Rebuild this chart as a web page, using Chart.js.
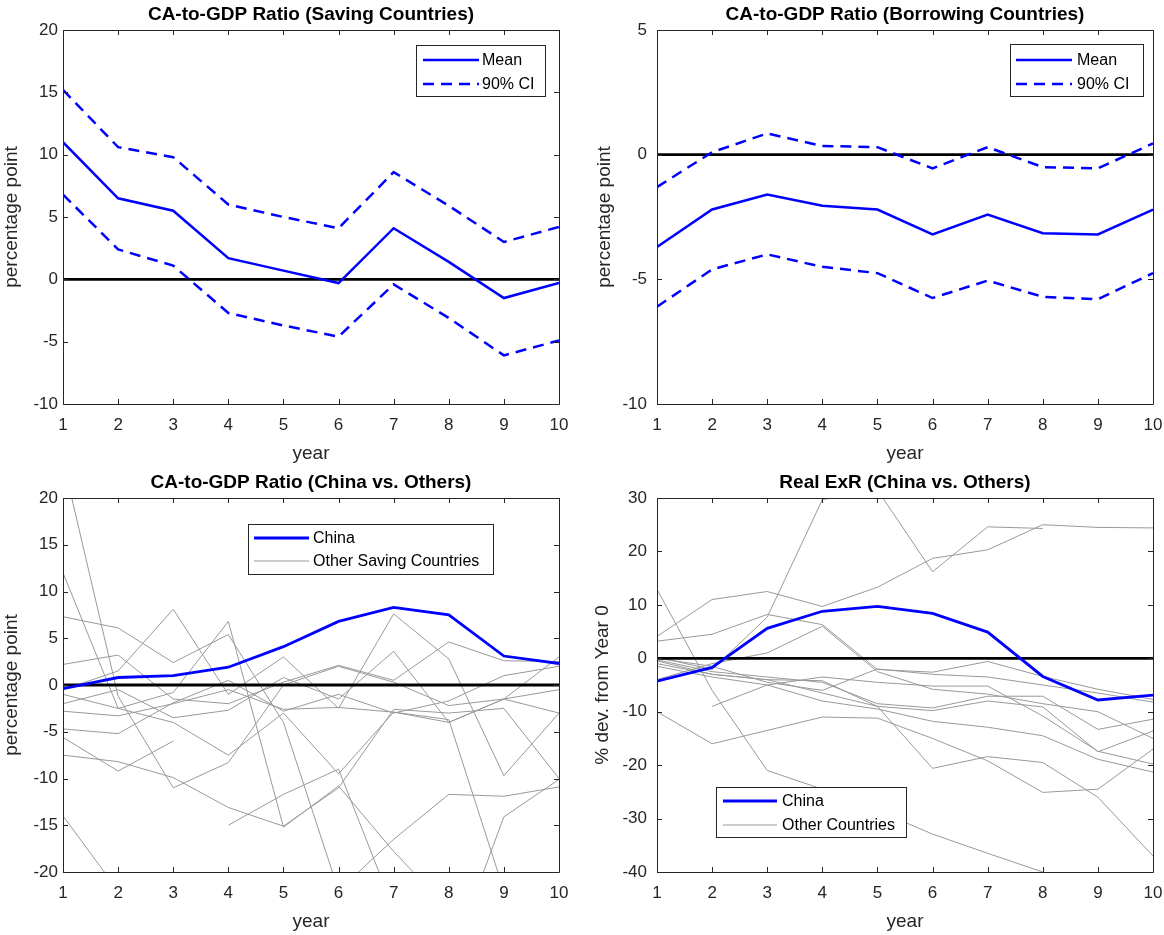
<!DOCTYPE html>
<html>
<head>
<meta charset="utf-8">
<title>CA-to-GDP and Real ExR panels</title>
<script src="https://cdn.jsdelivr.net/npm/chart.js@4.4.0/dist/chart.umd.min.js"></script>
<style>
    body { margin: 0; background: #fff; width: 1164px; height: 935px; position: relative; overflow: hidden; }
    canvas { position: absolute; }
</style>
</head>
<body>
<canvas id="savingChart" width="582" height="467" style="left:0;top:0"></canvas>
<canvas id="borrowChart" width="592" height="467" style="left:582px;top:0"></canvas>
<canvas id="chinaCAChart" width="582" height="467" style="left:0;top:468px"></canvas>
<canvas id="chinaExRChart" width="592" height="467" style="left:582px;top:468px"></canvas>
<script>
const years = [1, 2, 3, 4, 5, 6, 7, 8, 9, 10];
const zeroLine = [0, 0, 0, 0, 0, 0, 0, 0, 0, 0];

// top left: saving countries
const savingMean = [11.0, 6.5, 5.5, 1.7, 0.7, -0.3, 4.1, 1.4, -1.5, -0.3];
const savingUpper = [15.2, 10.6, 9.8, 6.0, 5.0, 4.1, 8.6, 5.9, 3.0, 4.2];
const savingLower = [6.8, 2.4, 1.1, -2.7, -3.7, -4.6, -0.4, -3.1, -6.1, -4.9];

// top right: borrowing countries
const borrowMean = [-3.7, -2.2, -1.6, -2.05, -2.2, -3.2, -2.4, -3.15, -3.2, -2.2];
const borrowUpper = [-1.3, 0.1, 0.85, 0.35, 0.3, -0.55, 0.3, -0.5, -0.55, 0.45];
const borrowLower = [-6.1, -4.6, -4.0, -4.5, -4.75, -5.75, -5.05, -5.7, -5.8, -4.75];

// bottom left: CA-to-GDP, China vs other saving countries
const chinaCA = [-0.4, 0.8, 1.0, 1.9, 4.1, 6.8, 8.3, 7.5, 3.1, 2.3];
const otherSavingCA = [
    [24.0, -1.2, -11.0, -8.3, 0.0, 2.0, 0.3, -2.2, -1.5, 3.0],
    [12.0, -2.5, -4.0, -7.5, -3.0, -9.5, -2.9, -3.7, -22.0, -30.0],
    [7.3, 6.1, 2.4, 5.4, -4.0, -22.0, -16.5, -11.7, -11.9, -10.9],
    [2.2, 3.2, -1.5, -2.0, 0.3, 2.1, 0.5, 4.6, 2.6, 2.5],
    [-0.5, 1.5, 8.1, -1.0, 3.0, -2.5, 7.6, 2.8, -9.7, -3.0],
    [-1.0, -2.5, -0.8, 6.8, -15.2, -10.8, -17.8, -24.0, null, null],
    [-2.0, -0.5, -3.5, -2.7, 0.8, -1.5, 3.6, -4.0, -1.5, -0.5],
    [-2.8, -3.3, -2.0, -0.5, -2.6, -2.4, -2.9, -4.0, -1.5, -3.0],
    [-4.7, -5.2, -1.9, 0.5, -2.8, -1.0, -3.0, -1.7, 1.0, 2.0],
    [-5.6, -9.2, -6.0, null, null, null, null, null, null, null],
    [-7.5, -8.2, -9.9, -13.1, -15.1, -11.0, -2.6, -3.0, -2.5, -10.0],
    [-14.0, -22.0, -30.0, null, null, null, null, null, null, null],
    [null, null, null, -15.0, -11.7, -9.0, -24.0, -30.0, -14.1, -10.1]
];

// bottom right: real exchange rate, China vs other countries
const chinaExR = [-4.3, -1.7, 5.6, 8.8, 9.7, 8.4, 4.9, -3.4, -7.8, -6.9];
const otherExR = [
    [12.9, -6.0, -21.0, -24.5, -28.5, -32.9, -36.5, -40.0, -44.0, -48.0],
    [4.1, 11.0, 12.5, 9.7, 13.3, 18.7, 20.3, 25.0, 24.5, 24.4],
    [0.2, -2.1, 7.7, 29.7, 31.5, 16.2, 24.6, 24.3, null, null],
    [3.2, 4.5, 8.2, 6.3, -2.1, -2.6, -0.6, -3.4, -5.8, -7.7],
    [-0.3, -2.5, -3.5, -4.5, -8.5, -9.3, -7.1, -7.1, -13.3, -11.4],
    [-1.0, -3.0, -4.0, -6.5, -9.0, -9.8, -8.0, -9.1, -17.5, -13.6],
    [-1.5, -3.5, -5.0, -8.0, -9.5, -11.8, -12.9, -14.5, -18.9, -21.3],
    [null, -9.0, -5.0, -3.5, -4.5, -5.2, -5.2, -10.8, -17.4, -19.8],
    [-10.0, -16.0, -13.5, -11.0, -11.2, -15.0, -19.2, -25.1, -24.5, -17.0],
    [-0.5, -3.0, -4.0, -4.2, -9.0, -20.6, -18.4, -19.5, -26.0, -37.0],
    [-4.0, -1.0, 1.0, 6.0, -2.5, -5.8, -6.7, -8.5, -10.0, -15.0],
    [0.0, -1.5, -4.5, -6.0, -2.0, -3.0, -3.5, -5.0, -6.5, -8.2]
];

const FONT = "Arial, 'Liberation Sans', Helvetica, sans-serif";
const BLUE = "#0000ff";
const GRAY = "#999999";
const AXIS = "#262626";
const DASH = [11, 7];

function line(data, color, width, dash) {
    return {
        data,
        borderColor: color,
        borderWidth: width,
        borderDash: dash || [],
        pointRadius: 0,
        pointHoverRadius: 0,
        tension: 0,
        fill: false,
        spanGaps: false,
        clip: 0
    };
}

// MATLAB style box with inward ticks on all four sides
const axesBox = {
    id: "axesBox",
    afterDatasetsDraw(chart) {
        const { ctx, chartArea: a, scales: { x, y } } = chart;
        ctx.save();
        ctx.strokeStyle = AXIS;
        ctx.lineWidth = 1;
        ctx.beginPath();
        ctx.rect(a.left + 0.5, a.top + 0.5, a.right - a.left, a.bottom - a.top);
        x.ticks.forEach((t, i) => {
            const px = Math.round(x.getPixelForTick(i)) + 0.5;
            ctx.moveTo(px, a.bottom); ctx.lineTo(px, a.bottom - 5);
            ctx.moveTo(px, a.top); ctx.lineTo(px, a.top + 5);
        });
        y.ticks.forEach(t => {
            const py = Math.round(y.getPixelForValue(t.value)) + 0.5;
            ctx.moveTo(a.left, py); ctx.lineTo(a.left + 5, py);
            ctx.moveTo(a.right, py); ctx.lineTo(a.right - 5, py);
        });
        ctx.stroke();
        ctx.restore();
    }
};

const legendBox = {
    id: "legendBox",
    afterDraw(chart, args, opts) {
        if (!opts || !opts.items) return;
        const ctx = chart.ctx;
        ctx.save();
        ctx.fillStyle = "#fff";
        ctx.fillRect(opts.x, opts.y, opts.w, opts.h);
        ctx.strokeStyle = AXIS;
        ctx.lineWidth = 1;
        ctx.strokeRect(opts.x + 0.5, opts.y + 0.5, opts.w, opts.h);
        ctx.font = "16px " + FONT;
        ctx.textBaseline = "middle";
        opts.items.forEach((it, i) => {
            const ly = opts.rows[i];
            ctx.strokeStyle = it.color;
            ctx.lineWidth = it.width;
            ctx.setLineDash(it.dash || []);
            ctx.beginPath();
            ctx.moveTo(opts.lineX0, ly);
            ctx.lineTo(opts.lineX1, ly);
            ctx.stroke();
            ctx.setLineDash([]);
            ctx.fillStyle = "#000";
            ctx.fillText(it.label, opts.textX, ly + 1);
        });
        ctx.restore();
    }
};

function buildPanel(id, p) {
    const ctx = document.getElementById(id).getContext("2d");
    return new Chart(ctx, {
        type: "line",
        data: { labels: years, datasets: p.datasets },
        options: {
            responsive: false,
            animation: false,
            events: [],
            layout: { padding: { left: 0, right: p.padRight, top: 0, bottom: 0 } },
            plugins: {
                legend: { display: false },
                tooltip: { enabled: false },
                title: {
                    display: true,
                    text: p.title,
                    fullSize: false,
                    color: "#000",
                    font: { family: FONT, size: 19, weight: "bold", lineHeight: 1.2 },
                    padding: { top: 3, bottom: 4.2 }
                },
                legendBox: p.legend
            },
            scales: {
                x: {
                    type: "category",
                    offset: false,
                    grid: { display: false, drawTicks: false },
                    border: { display: false },
                    ticks: { color: AXIS, font: { family: FONT, size: 17 }, padding: 11, autoSkip: false, maxRotation: 0 },
                    title: { display: true, text: "year", color: AXIS, font: { family: FONT, size: 19, lineHeight: 1.2 }, padding: { top: 0, bottom: 2 } },
                    afterFit: s => { s.height = 63; }
                },
                y: {
                    min: p.yMin,
                    max: p.yMax,
                    grid: { display: false, drawTicks: false },
                    border: { display: false },
                    ticks: { stepSize: p.yStep, color: AXIS, font: { family: FONT, size: 17 }, padding: p.yPad },
                    title: { display: true, text: p.yLabel, color: AXIS, font: { family: FONT, size: 19, lineHeight: 1.2 }, padding: { top: p.yTitlePad, bottom: 0 } },
                    afterFit: s => { s.width = p.yWidth; }
                }
            }
        },
        plugins: [axesBox, legendBox]
    });
}

document.addEventListener("DOMContentLoaded", () => {
    buildPanel("savingChart", {
        title: "CA-to-GDP Ratio (Saving Countries)",
        yLabel: "percentage point",
        yMin: -10, yMax: 20, yStep: 5,
        yWidth: 63, yPad: 5, yTitlePad: 0.6, padRight: 23,
        datasets: [
            line(savingMean, BLUE, 2.5),
            line(savingUpper, BLUE, 2.5, DASH),
            line(savingLower, BLUE, 2.5, DASH),
            line(zeroLine, "#000", 2.8)
        ],
        legend: {
            x: 416, y: 45, w: 129, h: 51, lineX0: 423, lineX1: 479, textX: 482, rows: [60, 84],
            items: [
                { label: "Mean", color: BLUE, width: 2.5 },
                { label: "90% CI", color: BLUE, width: 2.5, dash: DASH }
            ]
        }
    });

    buildPanel("borrowChart", {
        title: "CA-to-GDP Ratio (Borrowing Countries)",
        yLabel: "percentage point",
        yMin: -10, yMax: 5, yStep: 5,
        yWidth: 75, yPad: 10, yTitlePad: 11.6, padRight: 21,
        datasets: [
            line(borrowMean, BLUE, 2.5),
            line(borrowUpper, BLUE, 2.5, DASH),
            line(borrowLower, BLUE, 2.5, DASH),
            line(zeroLine, "#000", 2.8)
        ],
        legend: {
            x: 428, y: 44, w: 133, h: 52, lineX0: 434, lineX1: 490, textX: 495, rows: [60, 84],
            items: [
                { label: "Mean", color: BLUE, width: 2.5 },
                { label: "90% CI", color: BLUE, width: 2.5, dash: DASH }
            ]
        }
    });

    buildPanel("chinaCAChart", {
        title: "CA-to-GDP Ratio (China vs. Others)",
        yLabel: "percentage point",
        yMin: -20, yMax: 20, yStep: 5,
        yWidth: 63, yPad: 5, yTitlePad: 0.6, padRight: 23,
        datasets: [
            line(chinaCA, BLUE, 2.8),
            line(zeroLine, "#000", 2.8),
            ...otherSavingCA.map(s => line(s, GRAY, 1))
        ],
        legend: {
            x: 248, y: 56, w: 245, h: 50, lineX0: 254, lineX1: 309, textX: 313, rows: [70, 93],
            items: [
                { label: "China", color: BLUE, width: 2.8 },
                { label: "Other Saving Countries", color: GRAY, width: 1 }
            ]
        }
    });

    buildPanel("chinaExRChart", {
        title: "Real ExR (China vs. Others)",
        yLabel: "% dev. from Year 0",
        yMin: -40, yMax: 30, yStep: 10,
        yWidth: 75, yPad: 10, yTitlePad: 9.6, padRight: 21,
        datasets: [
            line(chinaExR, BLUE, 2.8),
            line(zeroLine, "#000", 2.8),
            ...otherExR.map(s => line(s, GRAY, 1))
        ],
        legend: {
            x: 134, y: 319, w: 190, h: 50, lineX0: 141, lineX1: 195, textX: 200, rows: [333, 357],
            items: [
                { label: "China", color: BLUE, width: 2.8 },
                { label: "Other Countries", color: GRAY, width: 1 }
            ]
        }
    });
});
</script>
</body>
</html>
